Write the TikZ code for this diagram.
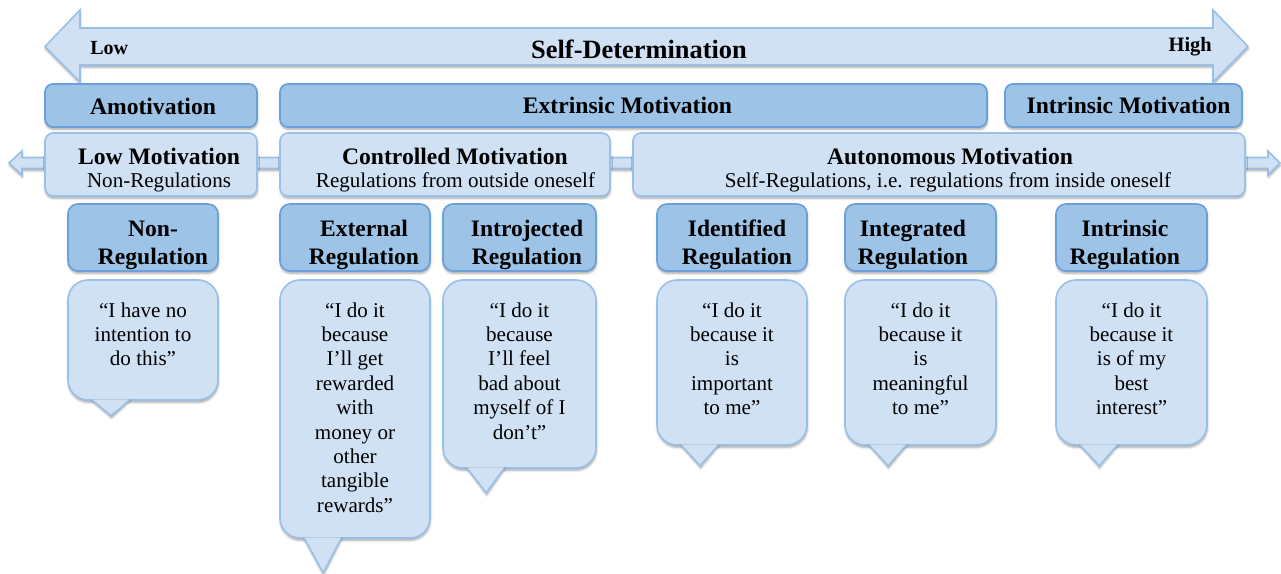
\documentclass[tikz,border=0pt]{standalone}
\usepackage{fontspec}
\setmainfont{Liberation Serif}
\usetikzlibrary{calc,shadows.blur}

\definecolor{dkfill}{RGB}{157,195,230}
\definecolor{dkline}{RGB}{108,160,217}
\definecolor{ltfill}{RGB}{208,225,243}
\definecolor{ltline}{RGB}{152,192,232}

\tikzset{
  px/.style 2 args={minimum width=#1*0.75pt, minimum height=#2*0.75pt},
  shd/.style={blur shadow={shadow xshift=0.3pt, shadow yshift=-1.8pt,
      shadow blur radius=1.6pt, shadow opacity=35}},
  dkbox/.style={shd, draw=dkline, fill=dkfill, line width=1.3pt,
      rounded corners=6pt, inner sep=0pt},
  ltbox/.style={shd, draw=ltline, fill=ltfill, line width=1.2pt,
      rounded corners=6pt, inner sep=0pt},
  regbox/.style={dkbox, rounded corners=7.5pt},
  bubble/.style={ltbox, rounded corners=15pt},
  band/.style={shd, draw=ltline, fill=ltfill, line width=1.2pt, line join=miter},
  % multi-line nodes: the base anchor sits on the last line
  hdr/.style={font=\fontsize{17.7}{21}\selectfont\bfseries, inner sep=0pt,
      anchor=base, align=center},
  subtxt/.style={font=\fontsize{15.8}{18.3}\selectfont, inner sep=0pt, anchor=base},
  saying/.style={font=\fontsize{15.8}{18.3}\selectfont, inner sep=0pt,
      anchor=base, align=center},
}

% speech-bubble tail below a bubble node: #1 = node, #2 = depth
\newcommand\bubbletail[2]{%
  \fill[ltfill, shd] ($(#1.south west)+(25,-1.4)$) -- ($(#1.south west)+(44,#2)$)
      -- ($(#1.south west)+(62,-1.4)$) -- cycle;
  \draw[ltline, line width=1.2pt, line join=round]
      ($(#1.south west)+(25,-0.4)$) -- ($(#1.south west)+(44,#2)$)
      -- ($(#1.south west)+(62,-0.4)$);
}

\begin{document}
\begin{tikzpicture}[x=0.75pt,y=-0.75pt]
\useasboundingbox (0,0) rectangle (1281,574);

% ---- Self-determination scale (double arrow) ----
\coordinate (sdL) at (45,46.5);
\coordinate (sdR) at (1248,46.5);
\draw[band] (sdL) -- (80,10) -- (80,28) -- (1213,28) -- (1213,10) -- (sdR)
  -- (1213,82) -- (1213,65) -- (80,65) -- (80,82) -- cycle;
\node[font=\fontsize{15}{18}\selectfont\bfseries, inner sep=0pt, anchor=base west] (low) at (90,55) {Low};
\node[font=\fontsize{15.3}{18}\selectfont\bfseries, inner sep=0pt, anchor=base east] (high) at (1212,52) {High};
\node[font=\fontsize{19.8}{23}\selectfont\bfseries, inner sep=0pt, anchor=base] (sd) at (639,59) {Self-Determination};

% ---- motivation types ----
\node[dkbox, px={212}{43}] (amot) at (151,105.5) {};
\node[dkbox, px={707}{43}] (extr) at (633.5,105.5) {};
\node[dkbox, px={237}{43}] (intr) at (1123.5,105.5) {};
\node[hdr] (amotT) at (153,115) {Amotivation};
\node[hdr] (extrT) at (627.5,114) {Extrinsic Motivation};
\node[hdr] (intrT) at (1128.5,114) {Intrinsic Motivation};

% ---- motivation continuum (thin double arrow behind the boxes) ----
\coordinate (cL) at (9,163);
\coordinate (cR) at (1280,163);
\draw[band] (cL) -- (22,151) -- (22,157.5) -- (1268,157.5) -- (1268,151) -- (cR)
  -- (1268,175) -- (1268,168.5) -- (22,168.5) -- (22,175) -- cycle;

\node[ltbox, px={212}{63}] (lowm) at (151,164.5) {};
\node[ltbox, px={330}{63}] (ctrl) at (445,164.5) {};
\node[ltbox, px={612}{63}] (auto) at (939,164.5) {};
\node[hdr] (lowmT) at (159,165) {Low Motivation};
\node[subtxt] (lowmS) at (159,188) {Non-Regulations};
\node[hdr] (ctrlT) at (455,165) {Controlled Motivation};
\node[subtxt] (ctrlS) at (455.5,188) {Regulations from outside oneself};
\node[hdr] (autoT) at (950,165) {Autonomous Motivation};
\node[subtxt] (autoS) at (948,188) {Self-Regulations, i.e. regulations from inside oneself};

% ---- regulation styles ----
\node[regbox, px={150}{67}] (r1) at (143,237.5) {};
\node[regbox, px={150}{67}] (r2) at (355,237.5) {};
\node[regbox, px={153}{67}] (r3) at (519.5,237.5) {};
\node[regbox, px={150}{67}] (r4) at (732,237.5) {};
\node[regbox, px={151}{67}] (r5) at (920.5,237.5) {};
\node[regbox, px={151}{67}] (r6) at (1131.5,237.5) {};
\node[hdr] (r1T) at (153,264) {Non-\\Regulation};
\node[hdr] (r2T) at (364,264) {External\\Regulation};
\node[hdr] (r3T) at (527,264) {Introjected\\Regulation};
\node[hdr] (r4T) at (737,264) {Identified\\Regulation};
\node[hdr] (r5T) at (913,264) {Integrated\\Regulation};
\node[hdr] (r6T) at (1125,264) {Intrinsic\\Regulation};

% ---- speech bubbles ----
\node[bubble, px={150}{120}] (q1) at (143,340) {};
\node[bubble, px={150}{258}] (q2) at (355,409) {};
\node[bubble, px={153}{188}] (q3) at (519.5,374) {};
\node[bubble, px={150}{165}] (q4) at (732,362.5) {};
\node[bubble, px={151}{165}] (q5) at (920.5,362.5) {};
\node[bubble, px={151}{165}] (q6) at (1131.5,362.5) {};
\bubbletail{q1}{15}
\bubbletail{q2}{34}
\bubbletail{q3}{24}
\bubbletail{q4}{20}
\bubbletail{q5}{20}
\bubbletail{q6}{20}

\node[saying] (q1T) at (143,365.8) {“I have no\\intention to\\do this”};
\node[saying] (q2T) at (355,512.2) {“I do it\\because\\I’ll get\\rewarded\\with\\money or\\other\\tangible\\rewards”};
\node[saying] (q3T) at (519.5,439) {“I do it\\because\\I’ll feel\\bad about\\myself of I\\don’t”};
\node[saying] (q4T) at (732,414.6) {“I do it\\because it\\is\\important\\to me”};
\node[saying] (q5T) at (920.5,414.6) {“I do it\\because it\\is\\meaningful\\to me”};
\node[saying] (q6T) at (1131.5,414.6) {“I do it\\because it\\is of my\\best\\interest”};
\end{tikzpicture}
\end{document}
